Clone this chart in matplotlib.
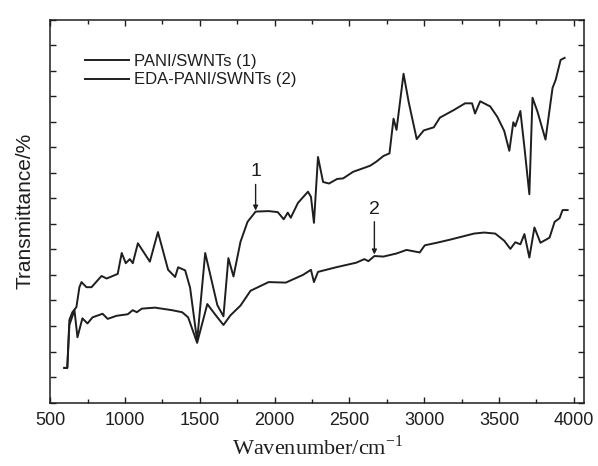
import matplotlib
matplotlib.use('Agg')
from matplotlib import pyplot as plt
from matplotlib.ticker import MultipleLocator, NullFormatter

# wavenumber (cm-1) and transmittance (arb. units)
pani_x = [594, 614, 628, 648, 675, 695, 709, 742, 776, 843, 877, 951, 978, 1005, 1032,
          1052, 1086, 1166, 1220, 1288, 1335, 1355, 1402, 1435, 1482, 1536, 1617, 1658,
          1691, 1725, 1772, 1819, 1873, 1960, 2021, 2061, 2088, 2108, 2156, 2223, 2243,
          2263, 2290, 2324, 2364, 2418, 2458, 2525, 2593, 2640, 2681, 2728, 2768, 2795,
          2815, 2862, 2896, 2950, 2997, 3064, 3105, 3199, 3273, 3320, 3340, 3374, 3441,
          3488, 3535, 3569, 3596, 3609, 3643, 3670, 3703, 3724, 3757, 3811, 3858, 3879,
          3912, 3939]
pani_y = [6.8, 6.8, 16.2, 17.7, 18.7, 22.6, 23.6, 22.6, 22.6, 24.8, 24.3, 25.2, 29.3, 27.3,
          28.1, 27.3, 31.2, 27.6, 33.4, 26.0, 24.6, 26.5, 25.9, 22.5, 12.1, 29.3, 19.1, 16.9,
          28.3, 24.7, 31.5, 35.4, 37.4, 37.5, 37.3, 35.9, 37.2, 36.2, 39.1, 41.3, 40.3,
          35.2, 48.1, 43.2, 42.9, 43.8, 43.9, 45.2, 45.9, 46.4, 47.2, 48.3, 48.8, 55.6,
          53.4, 64.4, 58.9, 51.6, 53.3, 53.9, 55.8, 57.3, 58.6, 58.6, 56.6, 59.0, 58.0,
          56.0, 53.2, 49.3, 54.9, 54.1, 57.1, 50.0, 40.8, 59.7, 57.0, 51.5, 61.6, 63.2,
          67.1, 67.5]

eda_x = [594, 614, 628, 662, 682, 715, 749, 783, 850, 884, 944, 1018, 1052, 1079, 1112,
         1200, 1314, 1382, 1422, 1482, 1550, 1604, 1658, 1705, 1772, 1839, 1960, 2075,
         2189, 2243, 2263, 2290, 2411, 2546, 2600, 2627, 2667, 2728, 2815, 2882, 2970,
         3004, 3084, 3172, 3266, 3333, 3401, 3475, 3535, 3576, 3609, 3643, 3670, 3703,
         3737, 3777, 3838, 3872, 3905, 3925, 3959]
eda_y = [6.8, 6.8, 15.2, 18.1, 12.8, 16.5, 15.5, 16.7, 17.4, 16.4, 17.0, 17.3, 18.1, 17.7,
         18.4, 18.6, 18.1, 17.7, 16.7, 11.7, 19.3, 17.2, 15.2, 17.1, 19.0, 21.9, 23.6,
         23.5, 25.0, 26.0, 23.6, 25.6, 26.5, 27.4, 28.1, 27.7, 28.7, 28.6, 29.2, 29.9,
         29.4, 30.8, 31.3, 31.9, 32.6, 33.1, 33.3, 33.1, 31.7, 30.1, 31.4, 31.0, 33.0,
         28.4, 34.3, 31.3, 32.3, 35.4, 36.1, 37.7, 37.7]

labels = ['PANI/SWNTs (1)', 'EDA-PANI/SWNTs (2)']
xticks = [500, 1000, 1500, 2000, 2500, 3000, 3500, 4000]

ink = '#1e1e1e'
plt.rcParams['mathtext.fontset'] = 'custom'
plt.rcParams['mathtext.rm'] = 'Liberation Serif'

fig = plt.figure(figsize=(5.98, 4.66), dpi=100)
ax = fig.add_axes([0.084, 0.136, 0.893, 0.822])

ax.plot(pani_x, pani_y, color=ink, lw=1.4, label=labels[0])
ax.plot(eda_x, eda_y, color=ink, lw=1.4, label=labels[1])

ax.set_xlim(500, 4070)
ax.set_ylim(0, 75)
ax.set_xticks(xticks)
ax.xaxis.set_minor_locator(MultipleLocator(250))
ax.yaxis.set_major_locator(MultipleLocator(5))
ax.yaxis.set_major_formatter(NullFormatter())
ax.tick_params(which='both', direction='in', top=True, right=True, color=ink, width=1.0)
ax.tick_params(which='major', length=4.5)
ax.tick_params(which='minor', length=3)
ax.tick_params(axis='x', pad=7, labelsize=13, labelcolor=ink)
for lab in ax.get_xticklabels():
    lab.set_family('Liberation Sans')
for s in ax.spines.values():
    s.set_linewidth(1.1)
    s.set_color(ink)

ax.set_xlabel('Wavenumber/cm$^{\\mathrm{-1}}$', family='Liberation Serif', fontsize=16,
              color=ink, labelpad=4)
ax.set_ylabel('Transmittance/%', family='Liberation Sans', fontsize=15, color=ink, labelpad=8)

leg = ax.legend(loc='upper left', bbox_to_anchor=(0.066, 0.91), frameon=False,
                borderpad=0, borderaxespad=0, handlelength=2.6, handletextpad=0.3,
                labelspacing=0.2, prop={'family': 'Liberation Sans', 'size': 12})
for t in leg.get_texts():
    t.set_color(ink)

# arrows pointing to the two curves
arrow = dict(arrowstyle='-|>', color=ink, lw=1.0, mutation_scale=7, shrinkA=1, shrinkB=0)
ax.annotate('1', xy=(1873, 37.6), xytext=(1873, 45.2), ha='center', va='center',
            fontsize=14, family='Liberation Sans', color=ink, arrowprops=arrow)
ax.annotate('2', xy=(2667, 29.0), xytext=(2667, 37.9), ha='center', va='center',
            fontsize=14, family='Liberation Sans', color=ink, arrowprops=arrow)

plt.savefig('out.png', dpi=100)
